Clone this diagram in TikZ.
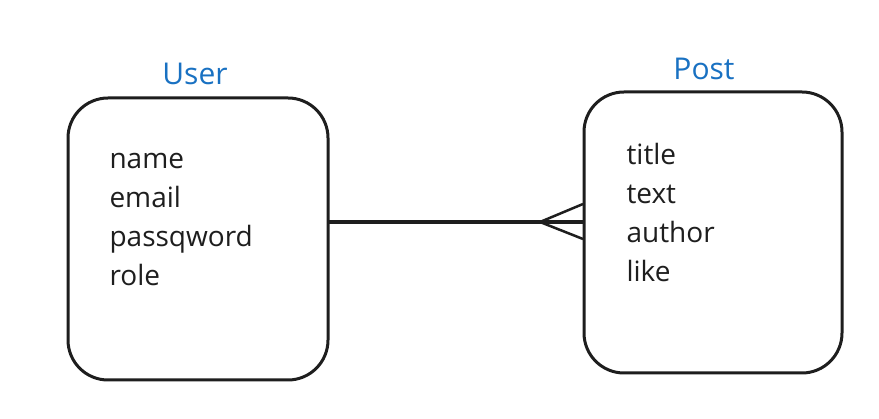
\documentclass[tikz,border=0pt]{standalone}
\usepackage{fontspec}
\setmainfont{Open Sans}
\definecolor{exblue}{HTML}{1971C2}
\definecolor{exblack}{HTML}{1E1E1E}
\begin{document}
\begin{tikzpicture}[x=1pt,y=-1pt,
  entity/.style={draw=exblack,line width=3pt,rounded corners=40pt,minimum width=#1},
  title/.style={text=exblue,font=\fontsize{30}{34}\selectfont},
  attr/.style={text=exblack,font=\fontsize{28}{39}\selectfont,align=left,anchor=west},
  rel/.style={draw=exblack,line width=3.5pt},
  foot/.style={draw=exblack,line width=2.5pt}]
\useasboundingbox[fill=white] (0,0) rectangle (879,419);
\draw[entity] (68,98) rectangle (328,380);
\draw[entity] (584,92) rectangle (842,373);
\coordinate (uR) at (328,222);
\coordinate (pL) at (584,222);
\coordinate (fork) at (540,222);
\coordinate (ftop) at (583,204);
\coordinate (fbot) at (583,239);
\node[title] (user) at (195,74) {User};
\node[title] (post) at (704,69) {Post};
\node[attr] (ua) at (106,220) {name\\email\\passqword\\role};
\node[attr] (pa) at (623,213) {title\\text\\author\\like};
\draw[rel] (uR) -- (pL);
\draw[foot] (fork) -- (ftop);
\draw[foot] (fork) -- (fbot);
\end{tikzpicture}
\end{document}
